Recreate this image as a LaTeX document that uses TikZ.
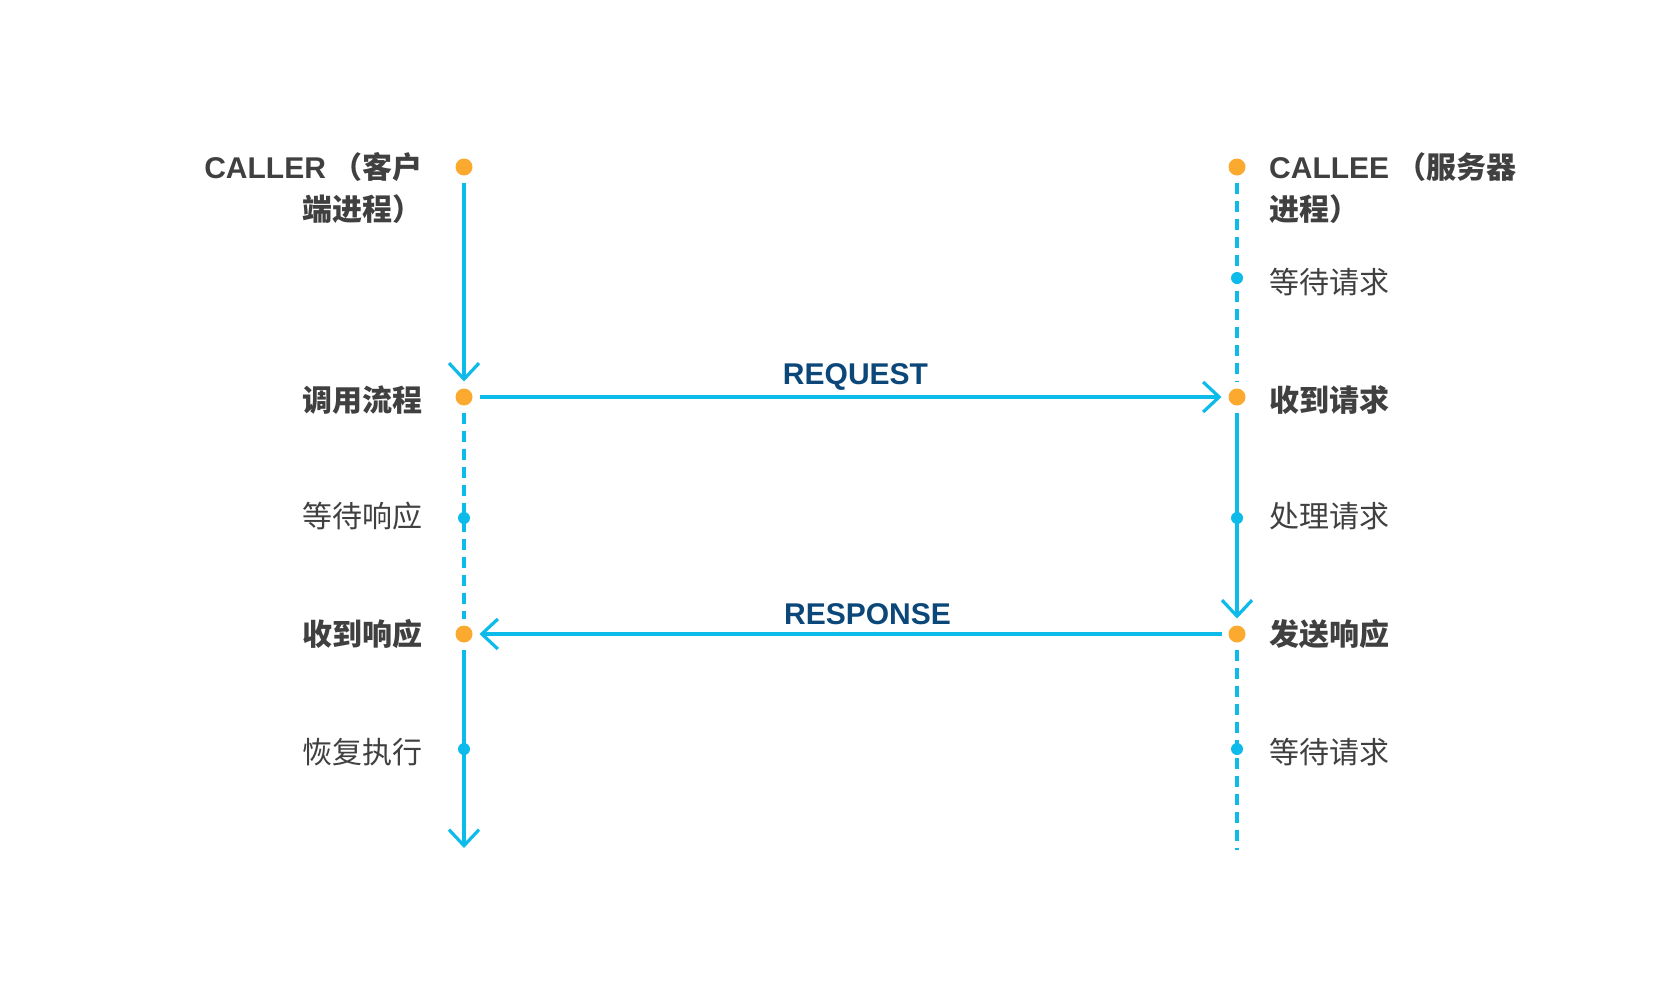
\documentclass[tikz,border=0pt]{standalone}
\usepackage{fontspec}
\setmainfont{Noto Sans CJK SC}
\newfontfamily\latinf{Liberation Sans}
\usetikzlibrary{arrows.meta}
\definecolor{orng}{HTML}{FBA92F}
\definecolor{cyanl}{HTML}{0DBBEB}
\definecolor{navy}{HTML}{0C477A}
\definecolor{txt}{HTML}{404040}
\begin{document}
\begin{tikzpicture}[x=1pt,y=-1pt,
  evt/.style={circle,fill=orng,inner sep=0pt,minimum size=17pt,outer sep=7pt},
  sub/.style={circle,fill=cyanl,inner sep=0pt,minimum size=12pt},
  solidline/.style={draw=cyanl,line width=3.2pt},
  dashline/.style={draw=cyanl,line width=3.2pt,dash pattern=on 11pt off 7pt},
  arrowed/.style={-{Straight Barb[length=16pt,width=30pt,line width=3.2pt]}},
  lbl/.style={text=txt,font=\fontsize{30}{42}\selectfont,inner sep=0pt},
  lblb/.style={text=txt,font=\fontsize{30}{42}\selectfont\bfseries,inner sep=0pt},
  msg/.style={text=navy,font=\latinf\fontsize{30}{36}\selectfont\bfseries,inner sep=0pt,anchor=base}]
\useasboundingbox (0,0) rectangle (1666,996);
% event dots
\node[evt] (ltop) at (464,167) {};
\node[evt] (lreq) at (464,397) {};
\node[evt] (lresp) at (464,634) {};
\coordinate (lend) at (464,848);
\node[evt] (rtop) at (1237,167) {};
\node[evt] (rreq) at (1237,397) {};
\node[evt] (rresp) at (1237,634) {};
\coordinate (rend) at (1237,850);
% lifelines
\draw[solidline,arrowed] (ltop) -- (lreq);
\draw[dashline] (lreq) -- (lresp);
\draw[solidline,arrowed] (lresp) -- (lend);
\draw[dashline] (rtop) -- (rreq);
\draw[solidline,arrowed] (rreq) -- (rresp);
\draw[dashline] (rresp) -- (rend);
% messages
\draw[solidline,arrowed] (lreq) -- node[msg,midway,yshift=13pt,xshift=5pt] (reqlbl) {REQUEST} (rreq);
\draw[solidline,arrowed] (rresp) -- node[msg,midway,yshift=10pt,xshift=17pt] (resplbl) {RESPONSE} (lresp);
% small state dots
\node[sub] (lwait) at (464,518) {};
\node[sub] (lresume) at (464,749) {};
\node[sub] (rwait) at (1237,278) {};
\node[sub] (rproc) at (1237,518) {};
\node[sub] (rwait2) at (1237,749) {};
% left labels
\node[lblb,align=right,anchor=north east] (callerlbl) at (423,152) {{\latinf\bfseries CALLER} （客户\\端进程）};
\node[lblb,anchor=east] (callbl) at (423,400) {调用流程};
\node[lbl,anchor=east] (waitrlbl) at (423,516) {等待响应};
\node[lblb,anchor=east] (recvrlbl) at (423,634) {收到响应};
\node[lbl,anchor=east] (resumelbl) at (423,752) {恢复执行};
% right labels
\node[lblb,align=left,anchor=north west] (calleelbl) at (1269,152) {{\latinf\bfseries CALLEE} （服务器\\进程）};
\node[lbl,anchor=west] (waitqlbl) at (1269,282) {等待请求};
\node[lblb,anchor=west] (recvqlbl) at (1269,400) {收到请求};
\node[lbl,anchor=west] (proclbl) at (1269,516) {处理请求};
\node[lblb,anchor=west] (sendlbl) at (1269,634) {发送响应};
\node[lbl,anchor=west] (waitq2lbl) at (1269,752) {等待请求};
\end{tikzpicture}
\end{document}
